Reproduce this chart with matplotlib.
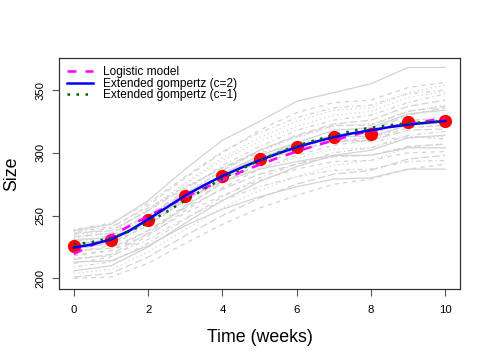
import matplotlib
matplotlib.use("Agg")
import matplotlib.pyplot as plt

plt.rcParams['font.family'] = ['Liberation Sans', 'DejaVu Sans']

# time points (weeks)
weeks = [0, 1, 2, 3, 4, 5, 6, 7, 8, 9, 10]

# individual trajectories (grey lines)
subjects = [
    [238, 243, 262, 287, 310, 325, 341, 348, 355, 368, 368],
    [235, 240, 258, 280, 300, 318, 332, 340, 342, 352, 356],
    [232, 236, 255, 276, 296, 312, 325, 334, 336, 348, 354],
    [229, 234, 250, 270, 290, 305, 318, 326, 330, 340, 347],
    [236, 238, 254, 272, 288, 302, 313, 322, 322, 333, 337],
    [227, 231, 246, 265, 283, 298, 308, 318, 320, 331, 334],
    [224, 228, 242, 262, 279, 293, 303, 312, 315, 325, 329],
    [230, 233, 249, 266, 281, 294, 302, 310, 312, 320, 322],
    [221, 226, 243, 263, 282, 296, 307, 314, 316, 326, 327],
    [233, 236, 250, 268, 282, 295, 302, 309, 310, 318, 319],
    [226, 230, 247, 266, 283, 296, 306, 313, 313, 322, 324],
    [218, 222, 238, 258, 276, 291, 301, 309, 312, 322, 325],
    [228, 229, 244, 262, 276, 288, 296, 303, 304, 312, 313],
    [237, 241, 256, 273, 288, 300, 306, 310, 309, 313, 311],
    [215, 219, 236, 257, 276, 292, 304, 314, 318, 330, 336],
    [231, 232, 246, 263, 277, 287, 293, 298, 298, 304, 304],
    [212, 217, 234, 254, 272, 287, 298, 306, 310, 320, 322],
    [225, 230, 248, 268, 286, 301, 312, 321, 323, 333, 338],
    [209, 213, 228, 247, 265, 280, 291, 300, 304, 314, 317],
    [222, 224, 238, 256, 271, 283, 291, 297, 298, 305, 307],
    [206, 210, 225, 244, 262, 277, 289, 298, 302, 312, 314],
    [219, 222, 235, 252, 266, 278, 287, 293, 294, 300, 301],
    [204, 207, 221, 239, 256, 270, 281, 290, 294, 304, 307],
    [216, 218, 231, 248, 262, 273, 281, 286, 287, 293, 294],
    [201, 204, 217, 234, 250, 264, 275, 283, 286, 295, 298],
    [213, 214, 226, 242, 255, 265, 273, 279, 280, 287, 287],
    [200, 201, 212, 228, 243, 256, 266, 275, 279, 287, 291],
    [234, 238, 254, 275, 294, 309, 321, 330, 333, 344, 349],
    [239, 244, 260, 281, 301, 316, 328, 336, 338, 347, 350],
    [223, 228, 245, 267, 286, 302, 314, 323, 326, 337, 342],
]

# mean size per week (red points)
mean_size = [226, 230.3, 246.8, 265.4, 281.6, 295.2, 304.5, 312.8, 314.9, 324.4, 325.5]

# fitted curves, read every half week
fit_time = [0, 0.5, 1, 1.5, 2, 2.5, 3, 3.5, 4, 4.5, 5,
            5.5, 6, 6.5, 7, 7.5, 8, 8.5, 9, 9.5, 10]
logistic_fit = [219.5, 226.5, 234, 241.7, 249.5, 257, 264.5, 271.7, 278.5, 284.7, 290.5,
                296, 301, 305.7, 310, 314, 317.5, 320.5, 323, 325.3, 327.5]
gompertz_c2 = [224.5, 227, 231, 238, 247, 256.5, 266, 274, 281.5, 288, 294,
               299.5, 304.5, 308.7, 312.5, 315.5, 318, 320.5, 322.5, 324, 325.3]
gompertz_c1 = [227, 229, 232, 237.5, 244.5, 253, 262, 271, 279.5, 287, 294,
               300, 305.5, 310, 314, 317.5, 320, 322, 323.5, 324.5, 325.5]

grey_styles = ['-', (0, (3.5, 3.5)), (0, (1, 2.5)), (0, (1, 2.5, 3.5, 2.5)), (0, (6, 2.5))]

fig = plt.figure(figsize=(4.91, 3.63), dpi=100)
ax = fig.add_axes([0.1202, 0.2039, 0.8167, 0.6355])

for i, s in enumerate(subjects):
    ax.plot(weeks, s, color='#d3d3d3', lw=0.9, linestyle=grey_styles[i % 5], zorder=1)

ax.plot(weeks, mean_size, 'o', color='red', ms=8.5, zorder=2)

ax.plot(fit_time, logistic_fit, color='magenta', lw=1.8, linestyle=(0, (3.6, 3.6)),
        label='Logistic model', zorder=3)
ax.plot(fit_time, gompertz_c2, color='blue', lw=1.8, linestyle='-',
        label='Extended gompertz (c=2)', zorder=4)
ax.plot(fit_time, gompertz_c1, color='darkgreen', lw=1.8, linestyle=(0, (1, 2.6)),
        label='Extended gompertz (c=1)', zorder=5)

ax.set_xlim(-0.4, 10.4)
ax.set_ylim(191.5, 375.3)
ax.set_xticks([0, 2, 4, 6, 8, 10])
ax.set_yticks([200, 250, 300, 350])
ax.tick_params(axis='both', length=5, width=0.8, color='#555555', labelsize=8.2)
ax.tick_params(axis='x', pad=6.8)
ax.tick_params(axis='y', pad=4.5)
for lab in ax.get_yticklabels():
    lab.set_rotation(90)
    lab.set_va('center')
for sp in ax.spines.values():
    sp.set_color('#333333')
    sp.set_linewidth(0.9)

ax.set_xlabel('Time (weeks)', fontsize=12.8)
ax.xaxis.set_label_coords(0.5, -0.173)
ax.set_ylabel('Size', fontsize=12.8, va='center')
ax.yaxis.set_label_coords(-0.117, 0.5)

ax.legend(loc='upper left', bbox_to_anchor=(0.02, 0.965), frameon=False,
          fontsize=8.6, handlelength=2.2, handletextpad=0.84, labelspacing=-0.05,
          borderpad=0, borderaxespad=0)

fig.savefig('out.png', dpi=100)
